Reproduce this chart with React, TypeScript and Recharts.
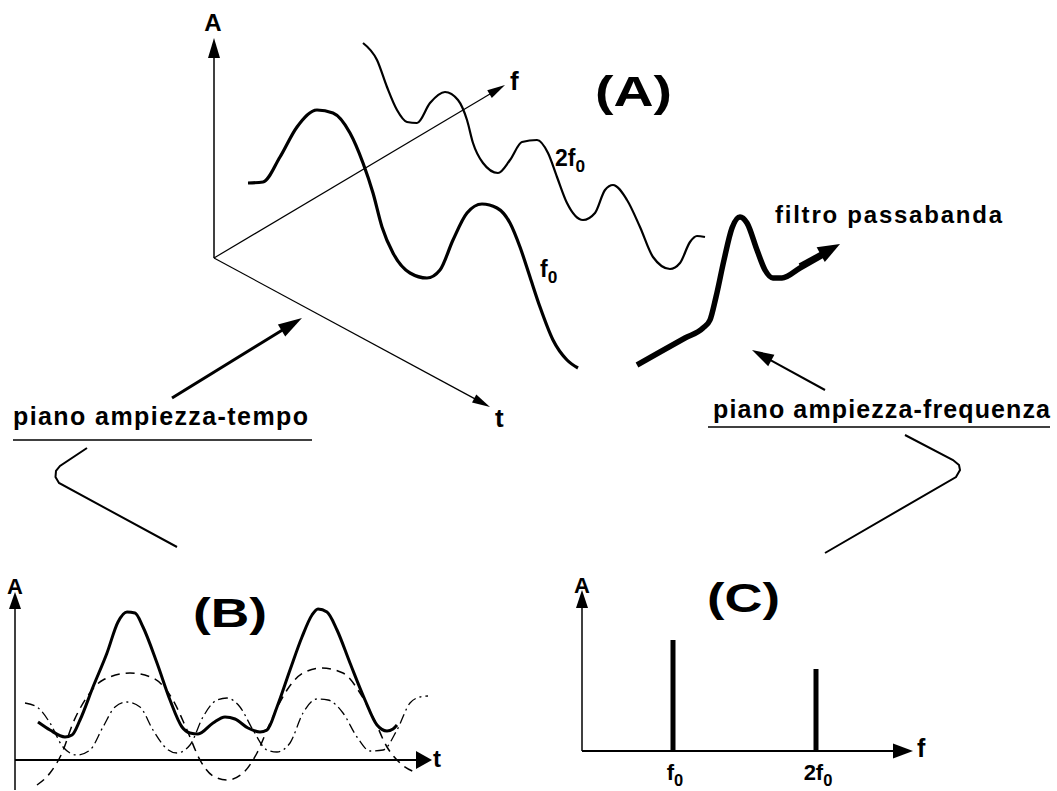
import React from "react";
import { ComposedChart, Line, Bar, XAxis, YAxis, ReferenceLine } from "recharts";

const FONT = "'Liberation Sans', Arial, Helvetica, sans-serif";
const INK = "#000";

// (A) perspective sketch, drawn in page units (x right, y down)
const f0Wave3d: [number, number][] = [
  [248, 183], [263, 182], [280, 157], [297, 127], [317, 110], [333, 113], [350, 133], [363, 163],
  [373, 193], [382, 227], [393, 253], [410, 273], [427, 278], [440, 270], [453, 240], [467, 213],
  [482, 204], [497, 208], [510, 223], [520, 247], [530, 277], [540, 307], [553, 340], [567, 360], [578, 368],
];
const f2Wave3d: [number, number][] = [
  [363, 43], [377, 60], [387, 87], [397, 110], [407, 122], [417, 123], [430, 103], [445, 92],
  [458, 100], [467, 120], [473, 143], [483, 163], [498, 173], [510, 160], [522, 142], [537, 140],
  [548, 153], [557, 177], [567, 203], [583, 220], [595, 213], [605, 190], [613, 185], [627, 200],
  [640, 227], [653, 257], [670, 269], [680, 263], [690, 242], [697, 236], [705, 237],
];
const filterCurve: [number, number][] = [
  [637, 365], [660, 352], [685, 338], [703, 328], [710, 320], [716, 297], [724, 260], [732, 228],
  [740, 217], [747, 223], [757, 250], [765, 270], [773, 278], [782, 278], [800, 268], [830, 251],
];
const bracketLeft: [number, number][] = [[87, 448], [60, 466], [56, 471], [55.5, 477], [59, 483], [177, 547]];
const bracketRight: [number, number][] = [[905, 435], [953, 460], [959, 465], [960, 470], [956, 477], [825, 553]];

// (B) amplitude vs time: [t, A]
const sumWave: [number, number][] = [
  [23, 38], [35, 30], [50, 23], [57, 25], [65, 40], [78, 73], [92, 107], [103, 138], [112, 148],
  [120, 147], [128, 133], [142, 97], [155, 60], [167, 33], [175, 27], [183, 26], [198, 37], [210, 43],
  [220, 41], [233, 32], [245, 28], [252, 30], [262, 53], [275, 90], [287, 123], [297, 145], [303, 151],
  [312, 148], [322, 130], [335, 97], [350, 60], [362, 35], [372, 29], [378, 31], [382, 35],
];
const fundamentalWave: [number, number][] = [
  [22, -25], [35, -13], [47, 7], [58, 37], [72, 63], [88, 80], [115, 87], [138, 82], [158, 60],
  [172, 30], [185, 0], [198, -16], [212, -20], [228, -13], [242, 7], [255, 37], [272, 70], [288, 87],
  [307, 92], [328, 87], [345, 67], [358, 43], [372, 13], [385, -3], [402, -13],
];
const harmonicWave: [number, number][] = [
  [10, 57], [22, 53], [35, 37], [48, 13], [62, 5], [75, 10], [88, 33], [100, 53], [112, 58], [125, 53],
  [138, 30], [152, 11], [162, 7], [175, 15], [188, 43], [202, 60], [212, 62], [225, 53], [238, 30],
  [252, 10], [262, 8], [275, 17], [288, 47], [302, 61], [313, 60], [328, 47], [342, 23], [355, 9],
  [368, 10], [382, 30], [395, 57], [405, 63], [413, 64],
];

// (C) spectrum
const specLabels = ["f", "2f"];
const specPos = [91, 234];
const specAmp = [111, 82];

const xy = (a: [number, number][]) => a.map(([x, y]) => ({ x, y }));
const ta = (a: [number, number][]) => a.map(([t, v]) => ({ t, a: v }));
const specData = specPos.map((f, i) => ({ f, amp: specAmp[i], label: specLabels[i] }));

const arrow = (len: number, wid: number, sw: number) => (p: any) => {
  const { x1, y1, x2, y2 } = p;
  const dx = x2 - x1;
  const dy = y2 - y1;
  const d = Math.hypot(dx, dy) || 1;
  const ux = dx / d;
  const uy = dy / d;
  const bx = x2 - ux * len;
  const by = y2 - uy * len;
  const pts = `${x2},${y2} ${bx - (uy * wid) / 2},${by + (ux * wid) / 2} ${bx + (uy * wid) / 2},${by - (ux * wid) / 2}`;
  return (
    <g>
      <line x1={x1} y1={y1} x2={bx + ux * 2} y2={by + uy * 2} stroke={INK} strokeWidth={sw} />
      <polygon points={pts} fill={INK} />
    </g>
  );
};

const lbl = { fontFamily: FONT, fontWeight: 700, fill: INK } as const;

function Sub({ x, y, main, size, anchor }: { x: number; y: number; main: string; size: number; anchor?: "start" | "middle" }) {
  return (
    <text x={x} y={y} fontSize={size} textAnchor={anchor || "start"} {...lbl}>
      {main}
      <tspan fontSize={size * 0.75} dy={size * 0.28}>0</tspan>
    </text>
  );
}

function SpecTick(props: any) {
  const { x, y, payload } = props;
  const i = specPos.indexOf(payload?.value);
  return <Sub x={x + 2} y={y + 29} main={specLabels[i] ?? ""} size={22} anchor="middle" />;
}

const lineProps = { dot: false, activeDot: false, isAnimationActive: false, stroke: INK } as const;

export default function App() {
  return (
    <div style={{ position: "absolute", left: 0, top: 0, width: 1057, height: 791, background: "#fff" }}>
      <div style={{ position: "absolute", left: 0, top: 0 }}>
        <ComposedChart width={1057} height={791} margin={{ top: 0, right: 0, bottom: 0, left: 0 }}>
          <XAxis type="number" dataKey="x" domain={[0, 1057]} hide />
          <YAxis type="number" domain={[0, 791]} reversed hide />
          <ReferenceLine segment={[{ x: 214, y: 258 }, { x: 214, y: 38 }]} shape={arrow(20, 12, 1.5)} />
          <ReferenceLine segment={[{ x: 214, y: 258 }, { x: 505, y: 85 }]} shape={arrow(18, 9, 1.2)} />
          <ReferenceLine segment={[{ x: 214, y: 258 }, { x: 490, y: 407 }]} shape={arrow(18, 9, 1.2)} />
          <ReferenceLine segment={[{ x: 172, y: 398 }, { x: 302, y: 318 }]} shape={arrow(24, 14, 3)} />
          <ReferenceLine segment={[{ x: 825, y: 390 }, { x: 752, y: 350 }]} shape={arrow(22, 13, 2)} />
          <ReferenceLine segment={[{ x: 800, y: 266 }, { x: 840, y: 244 }]} shape={arrow(22, 17, 5.5)} />
          <ReferenceLine segment={[{ x: 13, y: 440 }, { x: 312, y: 440 }]} stroke={INK} strokeWidth={1.5} />
          <ReferenceLine segment={[{ x: 708, y: 427 }, { x: 1050, y: 427 }]} stroke={INK} strokeWidth={1.5} />
          <Line data={xy(f0Wave3d)} dataKey="y" type="monotone" strokeWidth={3.2} {...lineProps} />
          <Line data={xy(f2Wave3d)} dataKey="y" type="monotone" strokeWidth={2.2} {...lineProps} />
          <Line data={xy(filterCurve)} dataKey="y" type="monotone" strokeWidth={5.5} {...lineProps} />
          <Line data={xy(bracketLeft)} dataKey="y" type="linear" strokeWidth={2} {...lineProps} />
          <Line data={xy(bracketRight)} dataKey="y" type="linear" strokeWidth={2} {...lineProps} />
          <text x={213} y={31} fontSize={24} textAnchor="middle" {...lbl}>A</text>
          <text x={510} y={90} fontSize={26} {...lbl}>f</text>
          <text x={495} y={427} fontSize={26} {...lbl}>t</text>
          <text x={595} y={106} fontSize={42} textLength={77} lengthAdjust="spacingAndGlyphs" {...lbl}>(A)</text>
          <Sub x={555} y={166} main="2f" size={23} />
          <Sub x={540} y={277} main="f" size={23} />
          <text x={775} y={223} fontSize={24} textLength={227} lengthAdjust="spacing" {...lbl}>filtro passabanda</text>
          <text x={13} y={425} fontSize={25} textLength={295} lengthAdjust="spacing" {...lbl}>piano ampiezza-tempo</text>
          <text x={713} y={418} fontSize={25} textLength={337} lengthAdjust="spacing" {...lbl}>piano ampiezza-frequenza</text>
        </ComposedChart>
      </div>

      <div style={{ position: "absolute", left: 0, top: 570 }}>
        <ComposedChart width={450} height={221} margin={{ top: 0, right: 0, bottom: 0, left: 15 }}>
          <XAxis type="number" dataKey="t" domain={[0, 435]} hide />
          <YAxis type="number" domain={[-31, 190]} hide />
          <ReferenceLine segment={[{ x: 0, y: -30 }, { x: 0, y: 168 }]} shape={arrow(17, 12, 1.5)} />
          <ReferenceLine segment={[{ x: 0, y: 0 }, { x: 417, y: 0 }]} shape={arrow(16, 18, 2)} />
          <Line data={ta(fundamentalWave)} dataKey="a" type="monotone" strokeWidth={1.5} strokeDasharray="9 6" {...lineProps} />
          <Line data={ta(harmonicWave)} dataKey="a" type="monotone" strokeWidth={1.3} strokeDasharray="10 4 2 4" {...lineProps} />
          <Line data={ta(sumWave)} dataKey="a" type="monotone" strokeWidth={3} {...lineProps} />
          <text x={15} y={24} fontSize={22} textAnchor="middle" {...lbl}>A</text>
          <text x={193} y={57} fontSize={40} textLength={74} lengthAdjust="spacingAndGlyphs" {...lbl}>(B)</text>
          <text x={433} y={197} fontSize={24} {...lbl}>t</text>
        </ComposedChart>
      </div>

      <div style={{ position: "absolute", left: 560, top: 570 }}>
        <ComposedChart width={380} height={221} data={specData} margin={{ top: 0, right: 18, bottom: 10, left: 22 }}>
          <XAxis
            type="number"
            dataKey="f"
            domain={[0, 340]}
            ticks={specPos}
            interval={0}
            height={30}
            tickSize={0}
            tickMargin={0}
            axisLine={false}
            tickLine={false}
            tick={(p: any) => <SpecTick {...p} />}
          />
          <YAxis type="number" domain={[0, 181]} hide />
          <ReferenceLine segment={[{ x: 0, y: 0 }, { x: 0, y: 161 }]} shape={arrow(18, 12, 1.5)} />
          <ReferenceLine segment={[{ x: 0, y: 0 }, { x: 331, y: 0 }]} shape={arrow(20, 15, 1.8)} />
          <Bar dataKey="amp" barSize={5} fill={INK} isAnimationActive={false} />
          <text x={22} y={23} fontSize={22} textAnchor="middle" {...lbl}>A</text>
          <text x={147} y={42} fontSize={40} textLength={73} lengthAdjust="spacingAndGlyphs" {...lbl}>(C)</text>
          <text x={357} y={187} fontSize={25} {...lbl}>f</text>
        </ComposedChart>
      </div>
    </div>
  );
}
